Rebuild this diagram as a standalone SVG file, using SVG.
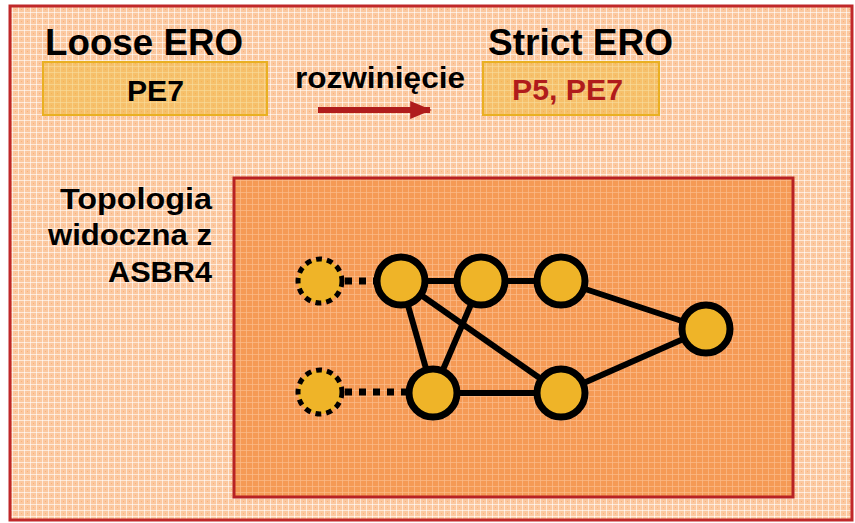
<svg xmlns="http://www.w3.org/2000/svg" width="855" height="523" viewBox="0 0 855 523">
  <defs>
    <!-- woven texture fills -->
    <pattern id="weaveLight" width="6" height="6" patternUnits="userSpaceOnUse">
      <rect width="6" height="6" fill="#fbc8a0"/>
      <rect x="0" y="0" width="6" height="1" fill="#ffffff" opacity="0.6"/>
      <rect x="0" y="0" width="1" height="6" fill="#ffffff" opacity="0.6"/>
      <rect x="3" y="3" width="1" height="1" fill="#f7a466" opacity="0.6"/>
    </pattern>
    <pattern id="weaveDark" width="6" height="6" patternUnits="userSpaceOnUse">
      <rect width="6" height="6" fill="#f59a55"/>
      <rect x="0" y="0" width="6" height="1" fill="#fbbd8c" opacity="0.7"/>
      <rect x="0" y="0" width="1" height="6" fill="#fbbd8c" opacity="0.7"/>
    </pattern>
    <marker id="arrowRed" viewBox="0 0 12 10" refX="11" refY="5" markerWidth="6" markerHeight="3" orient="auto" markerUnits="strokeWidth">
      <path d="M0,0 L12,5 L0,10 z" fill="#b01c1c"/>
    </marker>
    <style>
      .title { font-family: "Liberation Sans", Arial, sans-serif; font-weight: bold; font-size: 37px; fill: #000; }
      .value { font-family: "Liberation Sans", Arial, sans-serif; font-weight: bold; font-size: 30px; fill: #000; }
      .label { font-family: "Liberation Sans", Arial, sans-serif; font-weight: bold; font-size: 29px; fill: #000; }
      .ero { fill: #f0b52a; fill-opacity: 0.45; stroke: #e9b022; stroke-width: 2; }
      .node { fill: #efb428; stroke: #000; stroke-width: 7; }
      .ghost { fill: #efb428; stroke: #000; stroke-width: 5; stroke-dasharray: 6 5; }
      .edge { stroke: #000; stroke-width: 6; fill: none; }
      .dot { stroke: #000; stroke-width: 7; stroke-dasharray: 7 7; fill: none; }
    </style>
  </defs>

  <!-- background panel -->
  <rect x="10" y="6" width="842" height="514" fill="url(#weaveLight)" stroke="#c0282a" stroke-width="3"/>

  <!-- ERO header -->
  <g id="loose-ero">
    <text class="title" x="45" y="55" textLength="198" lengthAdjust="spacingAndGlyphs">Loose ERO</text>
    <rect class="ero" x="43" y="62" width="224" height="53"/>
    <text class="value" x="127" y="101" textLength="57" lengthAdjust="spacingAndGlyphs">PE7</text>
  </g>
  <g id="expansion">
    <text class="label" x="295" y="88" textLength="170" lengthAdjust="spacingAndGlyphs">rozwinięcie</text>
    <line x1="318" y1="110" x2="430" y2="110" stroke="#b01c1c" stroke-width="6" marker-end="url(#arrowRed)"/>
  </g>
  <g id="strict-ero">
    <text class="title" x="488" y="55" textLength="185" lengthAdjust="spacingAndGlyphs">Strict ERO</text>
    <rect class="ero" x="483" y="62" width="176" height="53"/>
    <text class="value" x="512" y="100" textLength="111" lengthAdjust="spacingAndGlyphs" style="fill:#b01c1c">P5, PE7</text>
  </g>

  <!-- topology caption -->
  <g id="caption">
    <text class="label" x="60" y="209" textLength="152" lengthAdjust="spacingAndGlyphs">Topologia</text>
    <text class="label" x="48" y="245" textLength="164" lengthAdjust="spacingAndGlyphs">widoczna z</text>
    <text class="label" x="108" y="282" textLength="104" lengthAdjust="spacingAndGlyphs">ASBR4</text>
  </g>

  <!-- topology area -->
  <rect x="234" y="178" width="559" height="319" fill="url(#weaveDark)" stroke="#b82224" stroke-width="3"/>

  <g id="connectors">
    <line class="dot" x1="345" y1="281" x2="375" y2="281"/>
    <line class="dot" x1="345" y1="392" x2="408" y2="392"/>
    <line class="edge" x1="401" y1="281" x2="481" y2="281"/>
    <line class="edge" x1="481" y1="281" x2="561" y2="281"/>
    <line class="edge" x1="561" y1="281" x2="706" y2="329"/>
    <line class="edge" x1="706" y1="329" x2="561" y2="393"/>
    <line class="edge" x1="433" y1="393" x2="561" y2="393"/>
    <line class="edge" x1="401" y1="281" x2="433" y2="393"/>
    <line class="edge" x1="481" y1="281" x2="433" y2="393"/>
    <line class="edge" x1="401" y1="281" x2="561" y2="393"/>
  </g>

  <g id="ghost-top"><circle class="ghost" cx="320" cy="281" r="22"/></g>
  <g id="ghost-bottom"><circle class="ghost" cx="320" cy="392" r="22"/></g>
  <g id="node-a"><circle class="node" cx="401" cy="281" r="24"/></g>
  <g id="node-b"><circle class="node" cx="481" cy="281" r="24"/></g>
  <g id="node-c"><circle class="node" cx="433" cy="393" r="24"/></g>
  <g id="node-d"><circle class="node" cx="561" cy="281" r="24"/></g>
  <g id="node-e"><circle class="node" cx="706" cy="329" r="24"/></g>
  <g id="node-f"><circle class="node" cx="561" cy="393" r="24"/></g>
</svg>
